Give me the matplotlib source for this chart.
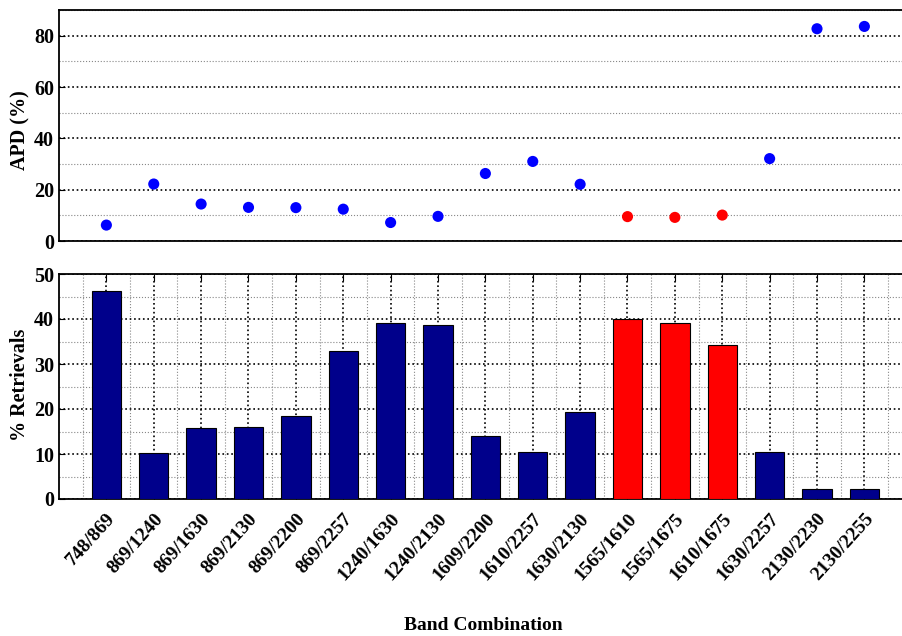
"""APD and retrieval fraction by band combination."""
import matplotlib.pyplot as plt
import numpy as np
from matplotlib.ticker import MultipleLocator

plt.rcParams["font.family"] = ["Liberation Serif", "DejaVu Serif"]
plt.rcParams["font.weight"] = "bold"

bands = ["748/869", "869/1240", "869/1630", "869/2130", "869/2200", "869/2257",
         "1240/1630", "1240/2130", "1609/2200", "1610/2257", "1630/2130",
         "1565/1610", "1565/1675", "1610/1675", "1630/2257", "2130/2230",
         "2130/2255"]
apd = [6.2, 22.2, 14.4, 13.1, 13.0, 12.4, 7.2, 9.6, 26.3, 31.0, 22.1,
       9.5, 9.2, 10.1, 32.1, 82.7, 83.6]
retrievals = [46.3, 10.2, 15.8, 16.0, 18.4, 32.8, 39.2, 38.6, 14.0, 10.4, 19.4,
              40.0, 39.2, 34.2, 10.4, 2.2, 2.2]
highlight = [11, 12, 13]  # indices of the 1565/1610/1675 combinations

x = np.arange(1, len(bands) + 1)
pt_colors = ["#ff0000" if i in highlight else "#0000ff" for i in range(len(bands))]
bar_colors = ["#ff0000" if i in highlight else "#00008b" for i in range(len(bands))]

W, H = 902, 636
fig = plt.figure(figsize=(W / 100, H / 100), dpi=100)
ax1 = fig.add_axes([59 / W, 1 - 241 / H, 1.02 - 59 / W, 231 / H])
ax2 = fig.add_axes([59 / W, 1 - 499 / H, 1.02 - 59 / W, 225 / H])

xmax = (W * 1.02 - 59) / 47.375

def style(ax):
    ax.set_axisbelow(True)
    ax.grid(True, which="major", axis="y", linestyle=":", color="black", linewidth=1.2)
    ax.grid(True, which="minor", axis="y", linestyle=":", color="#888888", linewidth=0.8)
    for s in ("left", "bottom", "top"):
        ax.spines[s].set_linewidth(1.3)
    ax.spines["right"].set_visible(False)
    ax.tick_params(axis="y", which="both", direction="in", labelsize=14.5, length=4)
    ax.tick_params(axis="y", which="minor", length=0)
    ax.set_xlim(0, xmax)

# top panel: APD points
ax1.scatter(x, apd, s=64, c=pt_colors, zorder=3, edgecolors="none")
ax1.set_ylim(0, 90)
ax1.yaxis.set_major_locator(MultipleLocator(20))
ax1.yaxis.set_minor_locator(MultipleLocator(10))
style(ax1)
ax1.set_xticks([])

# bottom panel: retrieval bars
ax2.bar(x, retrievals, width=0.62, color=bar_colors, edgecolor="black",
        linewidth=0.8, zorder=3)
ax2.set_ylim(0, 50)
ax2.yaxis.set_major_locator(MultipleLocator(10))
ax2.yaxis.set_minor_locator(MultipleLocator(5))
style(ax2)
ax2.set_xticks(x)
ax2.set_xticks(np.arange(0.5, xmax, 1.0), minor=True)
ax2.grid(True, which="major", axis="x", linestyle=":", color="black", linewidth=1.2)
ax2.grid(True, which="minor", axis="x", linestyle=":", color="#888888", linewidth=0.8)
ax2.tick_params(axis="x", which="major", direction="in", top=True, length=5,
                labelsize=14, pad=8)
ax2.tick_params(axis="x", which="minor", length=0)
ax2.set_xticklabels(bands, rotation=48, ha="right", rotation_mode="anchor",
                    fontweight="bold")

# axis titles
fig.text(20 / W, 1 - 130 / H, "APD (%)", rotation=90, ha="center", va="center",
         fontsize=14.5, fontweight="bold")
fig.text(20 / W, 1 - 385 / H, "% Retrievals", rotation=90, ha="center", va="center",
         fontsize=14.5, fontweight="bold")
fig.text(483 / W, 1 - 625 / H, "Band Combination", ha="center", va="center",
         fontsize=14, fontweight="bold")

fig.savefig("out.png", dpi=100)
